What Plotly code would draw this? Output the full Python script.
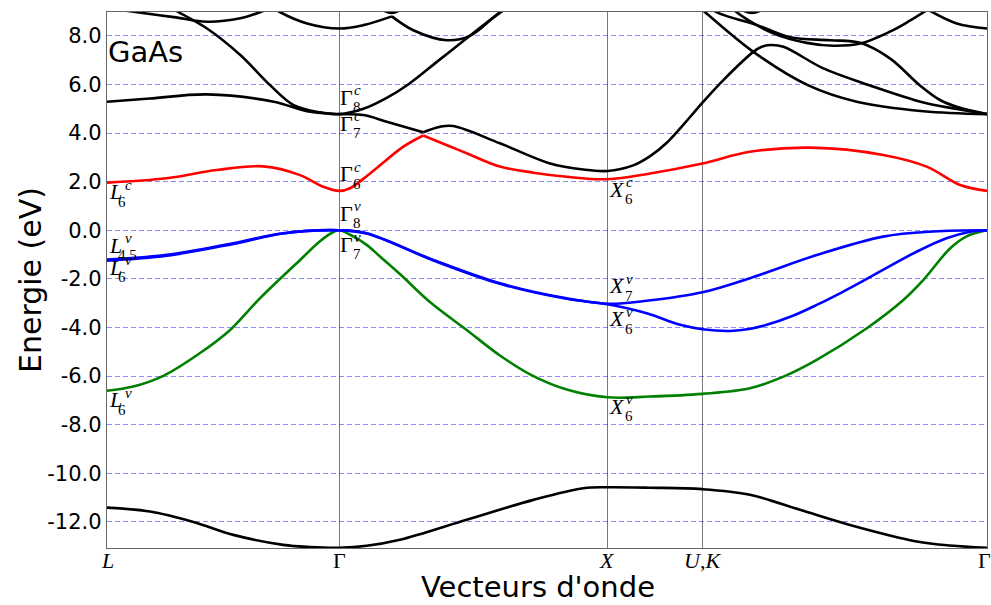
import plotly.graph_objects as go

# ---- path through the Brillouin zone (units of 2*pi/a) ----
kpath_pos = [0.0, 0.866, 1.866, 2.220, 3.281]
kpath_text = ["<i>L</i>", "Γ", "<i>X</i>", "<i>U</i>,<i>K</i>", "Γ"]

energy_ticks = [8, 6, 4, 2, 0, -2, -4, -6, -8, -10, -12]
energy_text = ["8.0", "6.0", "4.0", "2.0", "0.0", "-2.0", "-4.0", "-6.0", "-8.0", "-10.0", "-12.0"]

# ---- bands (k, E in eV); a repeated k marks a cusp (anticrossing) ----
# lowest valence band
k_v1 = [0.000, 0.160, 0.322, 0.471, 0.657, 0.757, 0.866, 0.968, 1.092, 1.341, 1.590, 1.776, 1.866,
        2.025, 2.220, 2.397, 2.584, 2.770, 3.019, 3.143, 3.281]
E_v1 = [-11.41, -11.57, -12.00, -12.53, -12.94, -13.03, -13.06, -12.98, -12.73, -11.91, -11.09, -10.61, -10.57,
        -10.59, -10.65, -10.88, -11.50, -12.12, -12.80, -12.97, -13.06]

# split-off valence band
k_v2 = [0.000, 0.098, 0.210, 0.347, 0.459, 0.570, 0.720, 0.794, 0.844, 0.866, 0.919, 0.968, 1.018, 1.092,
        1.204, 1.341, 1.465, 1.590, 1.714, 1.866, 2.025, 2.220, 2.397, 2.522, 2.646, 2.833, 2.969, 3.044,
        3.143, 3.205, 3.281]
E_v2 = [-6.60, -6.43, -5.99, -5.05, -4.10, -2.80, -1.22, -0.45, -0.07, 0.00, -0.26, -0.60, -1.08, -1.80,
        -2.95, -4.10, -5.15, -6.00, -6.55, -6.87, -6.84, -6.73, -6.50, -6.02, -5.33, -4.03, -2.87, -2.04,
        -0.75, -0.25, 0.00]

# light-hole / heavy-hole bands
k_v3 = [0.000, 0.223, 0.471, 0.657, 0.866, 0.968, 1.217, 1.465, 1.714, 1.866, 2.012, 2.220,
        2.397, 2.646, 2.894, 3.081, 3.281]
E_v3 = [-1.20, -1.01, -0.53, -0.12, 0.00, -0.12, -1.22, -2.18, -2.80, -3.02, -2.90, -2.55,
        -1.97, -1.02, -0.26, -0.05, 0.00]
k_v4 = [0.000, 0.223, 0.471, 0.657, 0.866, 0.968, 1.217, 1.465, 1.714, 1.866, 2.012, 2.137, 2.220,
        2.323, 2.400, 2.460, 2.550, 2.646, 2.740, 2.833, 2.930, 3.030, 3.130, 3.210, 3.281]
E_v4 = [-1.25, -1.05, -0.56, -0.13, 0.00, -0.13, -1.24, -2.20, -2.82, -3.04, -3.41, -3.89, -4.07,
        -4.14, -4.05, -3.89, -3.55, -3.07, -2.55, -2.00, -1.40, -0.82, -0.33, -0.08, 0.00]

# lowest conduction band
k_c1 = [0.000, 0.223, 0.409, 0.583, 0.720, 0.806, 0.866, 0.906, 0.981, 1.105, 1.179, 1.179, 1.279, 1.341,
        1.465, 1.590, 1.714, 1.866, 2.025, 2.220, 2.397, 2.622, 2.894, 3.056, 3.181, 3.281]
E_c1 = [1.96, 2.14, 2.48, 2.63, 2.27, 1.79, 1.62, 1.73, 2.34, 3.44, 3.90, 3.90, 3.45, 3.17,
        2.62, 2.37, 2.20, 2.10, 2.34, 2.75, 3.23, 3.40, 3.10, 2.62, 1.86, 1.62]

# higher conduction bands
k_c2 = [0.000, 0.160, 0.373, 0.622, 0.746, 0.866, 0.956, 1.043, 1.179, 1.179, 1.242, 1.291, 1.465, 1.652,
        1.776, 1.866, 1.962, 2.025, 2.087, 2.174, 2.220, 2.298, 2.410, 2.441, 2.472, 2.522, 2.671, 2.845,
        3.044, 3.168, 3.281]
E_c2 = [5.29, 5.42, 5.59, 5.29, 4.90, 4.78, 4.74, 4.47, 4.03, 4.03, 4.26, 4.29, 3.58, 2.75,
        2.50, 2.44, 2.67, 3.05, 3.60, 4.66, 5.25, 6.18, 7.34, 7.55, 7.62, 7.55, 6.66, 5.96,
        5.26, 4.99, 4.78]
k_c3 = [0.200, 0.267, 0.373, 0.497, 0.608, 0.696, 0.794, 0.866, 0.956, 1.043, 1.123, 1.238, 1.353, 1.453, 1.520]
E_c3 = [9.40, 8.97, 8.30, 7.21, 5.97, 5.15, 4.85, 4.78, 5.00, 5.45, 6.00, 7.00, 8.00, 8.85, 9.35]
k_c4 = [0.000, 0.112, 0.249, 0.373, 0.497, 0.570, 0.640]
E_c4 = [9.15, 8.97, 8.77, 8.58, 8.72, 8.97, 9.30]
k_c5 = [0.600, 0.646, 0.746, 0.866, 0.956, 1.062, 1.062, 1.142, 1.267, 1.353, 1.440, 1.500]
E_c5 = [9.30, 8.97, 8.51, 8.30, 8.44, 8.80, 8.80, 8.23, 7.82, 8.00, 8.75, 9.30]
k_c6 = [1.020, 1.062, 1.100]
E_c6 = [9.10, 8.94, 9.10]
k_c7 = [2.205, 2.230, 2.410, 2.615, 2.795, 3.044, 3.281]
E_c7 = [9.20, 8.97, 7.34, 5.96, 5.29, 4.90, 4.78]
k_c8 = [2.250, 2.273, 2.422, 2.547, 2.696, 2.808, 2.919, 3.031, 3.106, 3.168, 3.281]
E_c8 = [9.20, 8.97, 8.45, 7.94, 7.82, 7.71, 7.07, 5.96, 5.36, 5.08, 4.78]
k_c9 = [2.330, 2.348, 2.484, 2.609, 2.708, 2.808, 2.919, 2.990, 3.060, 3.060, 3.168, 3.281]
E_c9 = [9.20, 8.97, 8.10, 7.71, 7.59, 7.68, 8.17, 8.60, 9.08, 9.08, 8.51, 8.30]
k_c10 = [2.360, 2.404, 2.450]
E_c10 = [9.10, 8.94, 9.10]

black_bands = [(k_v1, E_v1), (k_c2, E_c2), (k_c3, E_c3), (k_c4, E_c4), (k_c5, E_c5),
               (k_c6, E_c6), (k_c7, E_c7), (k_c8, E_c8), (k_c9, E_c9), (k_c10, E_c10)]
colored_bands = [(k_v2, E_v2, "#008000"), (k_v3, E_v3, "#0000ff"),
                 (k_v4, E_v4, "#0000ff"), (k_c1, E_c1, "#ff0000")]

# symmetry labels: k, band energy, vertical offset of the glyph (px, down +), letter, sup, sub
point_labels = [
    (0.000, 1.96, 10, "L", "c", "6"),
    (0.000, 0.00, 16, "L", "v", "4,5"),
    (0.000, -1.20, 9, "L", "v", "6"),
    (0.000, -6.60, 10, "L", "v", "6"),
    (0.866, 4.78, -16, "Γ", "c", "8"),
    (0.866, 4.78, 10, "Γ", "c", "7"),
    (0.866, 1.62, -16, "Γ", "c", "6"),
    (0.866, 0.00, -16, "Γ", "v", "8"),
    (0.866, 0.00, 15, "Γ", "v", "7"),
    (1.866, 2.10, 11, "X", "c", "6"),
    (1.866, -3.02, -17, "X", "v", "7"),
    (1.866, -3.02, 16, "X", "v", "6"),
    (1.866, -6.87, 10, "X", "v", "6"),
]


def pieces(k, e):
    out, start = [], 0
    for i in range(1, len(k)):
        if k[i] == k[i - 1]:
            out.append((k[start:i], e[start:i]))
            start = i
    out.append((k[start:], e[start:]))
    return out


fig = go.Figure()
for k, e in black_bands:
    for kk, ee in pieces(k, e):
        fig.add_trace(go.Scatter(x=kk, y=ee, mode="lines",
                                 line=dict(color="black", width=2.6, shape="spline", smoothing=1.0),
                                 hoverinfo="skip", showlegend=False))
for k, e, col in colored_bands:
    for kk, ee in pieces(k, e):
        fig.add_trace(go.Scatter(x=kk, y=ee, mode="lines",
                                 line=dict(color=col, width=2.6, shape="spline", smoothing=1.0),
                                 hoverinfo="skip", showlegend=False))

serif = "Liberation Serif"
glyph_dx = {"L": 8, "Γ": 7.5, "X": 10}
script_dx = {"L": 21, "Γ": 18, "X": 22}
sub_dx = {"L": 15, "Γ": 18, "X": 22}
for k, e, dy, base, sup, sub in point_labels:
    txt = base if base == "Γ" else "<i>%s</i>" % base
    fig.add_annotation(x=k, y=e, xref="x", yref="y", text=txt, showarrow=False,
                       xanchor="center", yanchor="middle", xshift=glyph_dx[base], yshift=-dy + 1,
                       font=dict(family=serif, size=22, color="black"))
    fig.add_annotation(x=k, y=e, xref="x", yref="y", text="<i>%s</i>" % sup, showarrow=False,
                       xanchor="center", yanchor="middle", xshift=script_dx[base], yshift=-(dy - 8),
                       font=dict(family=serif, size=15, color="black"))
    sdx = sub_dx[base] + (5 if len(sub) > 1 else 0)
    fig.add_annotation(x=k, y=e, xref="x", yref="y", text=sub, showarrow=False,
                       xanchor="center", yanchor="middle", xshift=sdx, yshift=-(dy + 9),
                       font=dict(family=serif, size=15, color="black"))

# high-symmetry point names under the axis
for i, (kp, name) in enumerate(zip(kpath_pos, kpath_text)):
    fig.add_annotation(x=kp, y=0, xref="x", yref="paper", text=name, showarrow=False,
                       xanchor="center", yanchor="middle", yshift=-12,
                       xshift=-3 if i == len(kpath_pos) - 1 else 0,
                       font=dict(family=serif, size=22, color="black"))

fig.add_annotation(x=0, y=7.35, xref="paper", yref="y", text="GaAs", showarrow=False,
                   xanchor="left", yanchor="middle", xshift=-1,
                   font=dict(family="DejaVu Sans", size=29, color="black"))
fig.add_annotation(x=0.49, y=-0.0725, xref="paper", yref="paper", text="Vecteurs d'onde",
                   showarrow=False, xanchor="center", yanchor="middle",
                   font=dict(family="DejaVu Sans", size=29, color="black"))
fig.add_annotation(x=-0.0875, y=0.5, xref="paper", yref="paper", text="Energie (eV)",
                   showarrow=False, xanchor="center", yanchor="middle", textangle=-90,
                   font=dict(family="DejaVu Sans", size=30, color="black"))

fig.update_layout(
    width=991, height=605,
    margin=dict(l=107, r=4, t=12, b=57),
    paper_bgcolor="white", plot_bgcolor="white",
    showlegend=False,
    xaxis=dict(range=[kpath_pos[0], kpath_pos[-1]], tickmode="array", tickvals=kpath_pos,
               showticklabels=False, showgrid=True, gridcolor="#7a7a7a", gridwidth=1.3,
               zeroline=False, showline=True, linecolor="#666666", linewidth=1.3, mirror=True,
               ticks=""),
    yaxis=dict(range=[-13.07, 8.98], tickmode="array", tickvals=energy_ticks, ticktext=energy_text,
               showgrid=True, gridcolor="rgba(0,0,255,0.45)", gridwidth=1, griddash="5px,3px",
               zeroline=False, showline=True, linecolor="#666666", linewidth=1.3, mirror=True,
               ticks="", tickfont=dict(family="DejaVu Sans", size=21, color="black")),
)

fig.write_html("out.html")
